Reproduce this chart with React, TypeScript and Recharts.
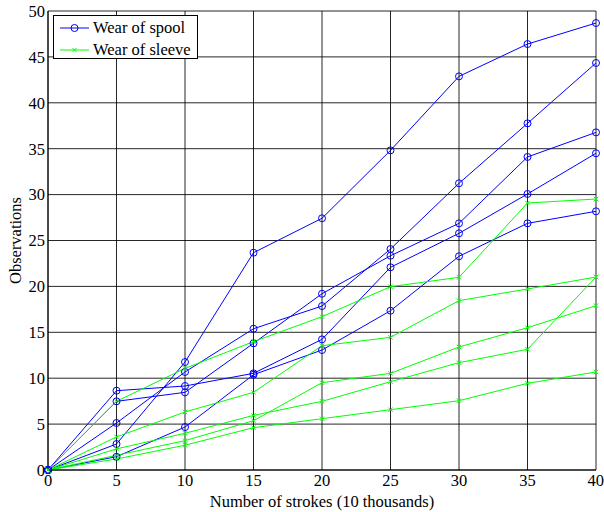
import React from 'react';
import { LineChart, Line, XAxis, YAxis, CartesianGrid } from 'recharts';

const strokes = [0, 5, 10, 15, 20, 25, 30, 35, 40];
const yTicks = [0, 5, 10, 15, 20, 25, 30, 35, 40, 45, 50];

// wear of spool (blue, circles)
const spool1 = [0, 2.83, 11.76, 23.67, 27.42, 34.82, 42.88, 46.4, 48.69];
const spool2 = [0, 5.12, 10.68, 15.39, 17.86, 24.07, 31.23, 37.76, 44.34];
const spool3 = [0, 7.48, 8.46, 13.8, 19.2, 23.34, 26.87, 34.1, 36.78];
const spool4 = [0, 8.64, 9.15, 10.53, 14.23, 22.08, 25.78, 30.07, 34.5];
const spool5 = [0, 1.45, 4.68, 10.38, 13.07, 17.35, 23.28, 26.87, 28.18];

// wear of sleeve (green, x marks)
const sleeve1 = [0, 7.48, 11.07, 13.98, 16.7, 19.97, 20.99, 29.08, 29.52];
const sleeve2 = [0, 3.6, 6.32, 8.46, 13.54, 14.45, 18.45, 19.72, 21.02];
const sleeve3 = [0, 1.6, 3.2, 5.37, 9.51, 10.53, 13.4, 15.5, 17.9];
const sleeve4 = [0, 2.3, 4.0, 5.95, 7.48, 9.62, 11.69, 13.15, 21.02];
const sleeve5 = [0, 1.2, 2.7, 4.61, 5.59, 6.57, 7.55, 9.44, 10.68];

const spools = [spool1, spool2, spool3, spool4, spool5];
const sleeves = [sleeve1, sleeve2, sleeve3, sleeve4, sleeve5];

const data = strokes.map((x, i) => {
  const row: Record<string, number> = { x };
  spools.forEach((s, k) => (row[`b${k}`] = s[i]));
  sleeves.forEach((s, k) => (row[`g${k}`] = s[i]));
  return row;
});

const BLUE = '#0000ff';
const GREEN = '#00ff00';
const FONT = "'Liberation Serif', 'DejaVu Serif', serif";
const FS = 16.5;

const CircleDot = (props: any) => {
  const { cx, cy, index } = props;
  return <circle key={`c${index}`} cx={cx} cy={cy} r={3.5} fill="none" stroke={BLUE} strokeWidth={1} />;
};

const CrossDot = (props: any) => {
  const { cx, cy, index } = props;
  const s = 2.2;
  return (
    <path
      key={`x${index}`}
      d={`M${cx - s},${cy - s}L${cx + s},${cy + s}M${cx - s},${cy + s}L${cx + s},${cy - s}`}
      stroke={GREEN}
      strokeWidth={1}
    />
  );
};

const LegendBox = () => (
  <svg width={145} height={44} style={{ position: 'absolute', left: 53, top: 15 }}>
    <rect x={0.5} y={0.5} width={144} height={43} fill="#fff" stroke="#000" strokeWidth={1} />
    <line x1={7} y1={13} x2={36} y2={13} stroke={BLUE} />
    <circle cx={21.5} cy={13} r={3.5} fill="none" stroke={BLUE} />
    <text x={40} y={18} fontFamily={FONT} fontSize={FS} fill="#000">Wear of spool</text>
    <line x1={7} y1={35} x2={36} y2={35} stroke={GREEN} />
    <path d="M19.5,33L23.5,37M19.5,37L23.5,33" stroke={GREEN} />
    <text x={40} y={40} fontFamily={FONT} fontSize={FS} fill="#000">Wear of sleeve</text>
  </svg>
);

export default function App() {
  return (
    <div style={{ position: 'absolute', left: 0, top: 0, width: 604, height: 512, background: '#fff' }}>
      <LineChart width={604} height={512} data={data} margin={{ top: 11, right: 8, bottom: 0, left: 0 }}>
        <CartesianGrid stroke="#000" strokeWidth={1} strokeOpacity={0.85} />
        <XAxis
          dataKey="x"
          type="number"
          domain={[0, 40]}
          ticks={strokes}
          height={42}
          stroke="#000"
          tickLine={false}
          tickSize={4}
          tickMargin={0}
          tick={{ fill: '#000', fontSize: FS, fontFamily: FONT }}
          label={{
            value: 'Number of strokes (10 thousands)',
            position: 'insideBottom',
            offset: 5,
            fill: '#000',
            fontSize: FS,
            fontFamily: FONT,
          }}
        />
        <YAxis
          type="number"
          domain={[0, 50]}
          ticks={yTicks}
          width={48}
          stroke="#000"
          tickLine={false}
          tickSize={2}
          tickMargin={1}
          tick={{ fill: '#000', fontSize: FS, fontFamily: FONT }}
          label={{
            value: 'Observations',
            angle: -90,
            position: 'center',
            dx: -9,
            fill: '#000',
            fontSize: FS,
            fontFamily: FONT,
          }}
        />
        {spools.map((_, k) => (
          <Line
            key={`b${k}`}
            dataKey={`b${k}`}
            type="linear"
            stroke={BLUE}
            strokeWidth={1}
            dot={CircleDot}
            activeDot={false}
            isAnimationActive={false}
          />
        ))}
        {sleeves.map((_, k) => (
          <Line
            key={`g${k}`}
            dataKey={`g${k}`}
            type="linear"
            stroke={GREEN}
            strokeWidth={1}
            dot={CrossDot}
            activeDot={false}
            isAnimationActive={false}
          />
        ))}
      </LineChart>
      <LegendBox />
    </div>
  );
}
